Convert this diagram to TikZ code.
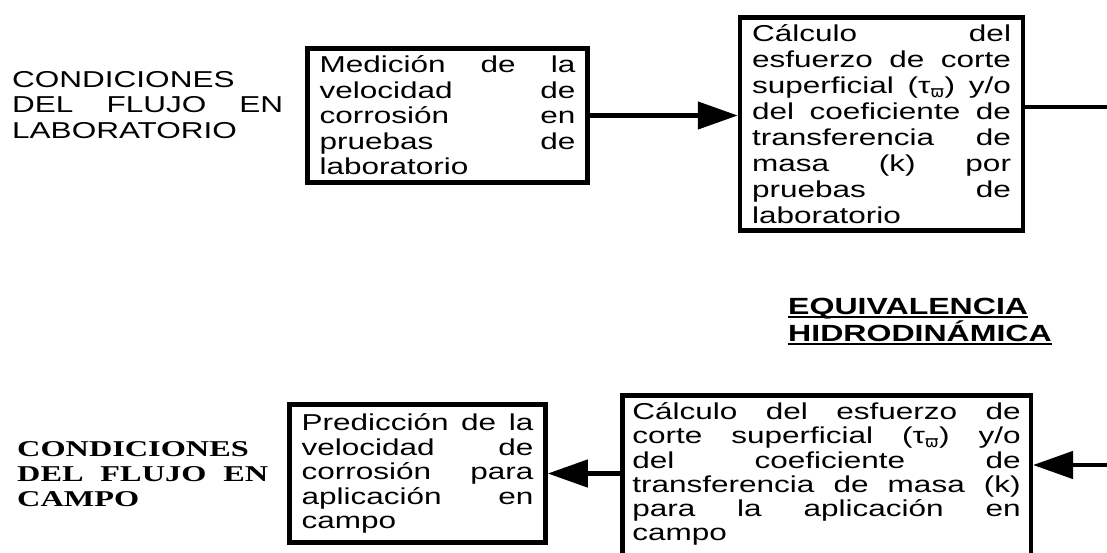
\documentclass[tikz,border=0pt]{standalone}
\usepackage{fontspec}
\setmainfont{Liberation Sans}[FakeStretch=1.37]
\newfontfamily\campofont{Liberation Serif}[FakeStretch=1.43]
\newfontfamily\symfont{DejaVu Sans}
\usetikzlibrary{arrows.meta}

\newcommand{\boxtxt}{\fontsize{23pt}{25.5pt}\selectfont}
\newcommand{\titletxt}{\fontsize{23.4pt}{27pt}\selectfont\bfseries}
\newcommand{\campotxt}{\fontsize{22.6pt}{25pt}\selectfont\campofont\bfseries}
\newcommand{\tauw}{τ\textsubscript{\symfont ϖ}}
\newsavebox{\ulbox}
\newcommand{\ulword}[1]{\sbox{\ulbox}{#1}\rlap{\vrule height -1.2pt depth 3.6pt width \wd\ulbox}\usebox{\ulbox}}

\begin{document}
\begin{tikzpicture}[x=1pt, y=-1pt,
  box/.style={draw, line width=4.5pt, inner xsep=12pt, inner ysep=4pt, align=justify, font=\boxtxt},
  arr/.style={line width=4.5pt, -{Triangle[length=40pt, width=27pt]}},
  conn/.style={line width=4.5pt},
  lab/.style={inner sep=0pt, align=justify, anchor=north west}
]
\useasboundingbox (0,0) rectangle (1107,552);

% --- laboratorio (top row) ---
\node[lab, font=\boxtxt, text width=271pt] (condLab) at (12,71) {CONDICIONES\linebreak DEL FLUJO EN\linebreak LABORATORIO};
\node[box, text width=256pt, minimum height=134pt] (medLab) at (447.5,115.5)
  {Medición de la\linebreak velocidad de\linebreak corrosión en\linebreak pruebas de\linebreak laboratorio};
\node[box, font=\fontsize{23pt}{26pt}\selectfont, text width=259pt, minimum height=213pt] (calcLab) at (881.5,124)
  {Cálculo del\linebreak esfuerzo de corte\linebreak superficial (\tauw) y/o\linebreak del coeficiente de\linebreak transferencia de\linebreak masa (k) por\linebreak pruebas de\linebreak laboratorio};

% --- equivalencia ---
\node[lab, font=\titletxt, align=left] (equiv) at (788,298) {\ulword{EQUIVALENCIA}\\\ulword{HIDRODINÁMICA}};

% --- campo (bottom row) ---
\node[lab, font=\campotxt, text width=251pt] (condCampo) at (17,441) {CONDICIONES\linebreak DEL FLUJO EN\linebreak CAMPO};
\node[box, font=\fontsize{23pt}{24.5pt}\selectfont, text width=232pt, minimum height=138pt] (predCampo) at (417.5,473.5)
  {Predicción de la\linebreak velocidad de\linebreak corrosión para\linebreak aplicación en\linebreak campo};
% box runs past the lower edge of the page
\node[box, font=\fontsize{23pt}{24.3pt}\selectfont, inner xsep=10pt, inner ysep=7pt, text width=388.5pt, anchor=north] (calcCampo) at (826.5,393.25)
  {Cálculo del esfuerzo de\linebreak corte superficial (\tauw) y/o\linebreak del coeficiente de\linebreak transferencia de masa (k)\linebreak para la aplicación en\linebreak campo\rule[-18pt]{0pt}{18pt}};

% --- connectors ---
\coordinate (outR) at (1107,107);
\coordinate (inR) at (1107,465);
\draw[arr] (medLab.east) -- (medLab.east -| calcLab.west);
\draw[conn] (calcLab.east |- outR) -- (outR);
\draw[arr] (inR) -- (inR -| calcCampo.east);
\draw[arr] (predCampo.east -| calcCampo.west) -- (predCampo.east);

\end{tikzpicture}
\end{document}
